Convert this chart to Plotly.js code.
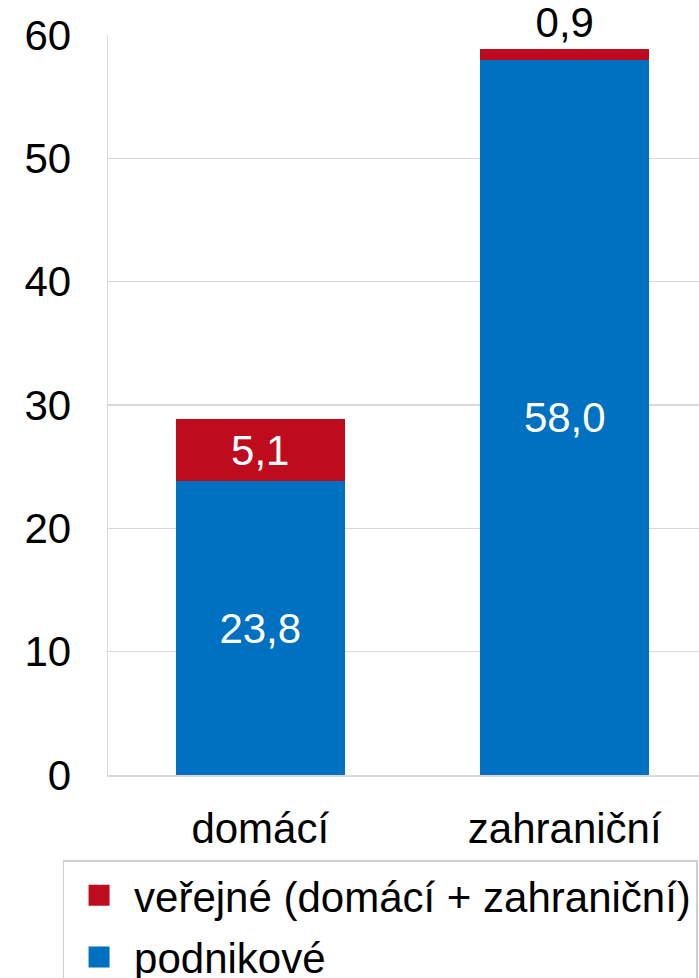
<!DOCTYPE html>
<html><head><meta charset="utf-8">
<script src="https://cdn.plot.ly/plotly-3.0.1.min.js"></script>
<style>html,body{margin:0;padding:0;overflow:hidden;background:#fff}#chart{width:760px;height:1060px}</style>
</head><body><div id="chart"></div>
<script>
const categories = ['domácí', 'zahraniční'];
const podnikove = [23.8, 58.0];
const verejne = [5.1, 0.9];
const seriesNames = ['podnikové', 'veřejné (domácí + zahraniční)'];
const yTicks = [0, 10, 20, 30, 40, 50, 60];

const FONT = 'Liberation Sans, Arial, sans-serif';
const traces = [
  {type:'bar', x:categories, y:podnikove, name:seriesNames[0], legendgroup:'a', legendrank:2,
   marker:{color:'#0070C0'},
   texttemplate:'%{y:.1f}', textposition:'inside', insidetextanchor:'middle',
   textfont:{family:FONT, size:42, color:'#ffffff'}, constraintext:'none', hoverinfo:'skip'},
  {type:'bar', x:categories, y:verejne, name:seriesNames[1], legendgroup:'b', legendrank:1,
   marker:{color:'#BE0B1E'},
   texttemplate:'%{y:.1f}', textposition:['inside','outside'], insidetextanchor:'middle',
   textfont:{family:FONT, size:42, color:['#ffffff','#000000']}, constraintext:'none', cliponaxis:false, hoverinfo:'skip'}
];
const layout = {
  width:760, height:1060,
  margin:{l:107.5, r:42.5, t:35, b:285},
  barmode:'stack', bargap:0.446,
  separators:',.',
  font:{family:FONT, size:42, color:'#000'},
  paper_bgcolor:'#fff', plot_bgcolor:'#fff',
  showlegend:true,
  xaxis:{type:'category', range:[-0.5,1.5], showgrid:false, showline:true, linecolor:'#d9d9d9', linewidth:1.5,
         ticks:'', tickfont:{size:42, family:FONT, color:'#000'}, ticklabelstandoff:16, fixedrange:true},
  yaxis:{range:[0,60], tickvals:yTicks, ticktext:yTicks.map(String), showgrid:true, gridcolor:'#d9d9d9', gridwidth:1.5,
         showline:true, linecolor:'#d9d9d9', linewidth:1.5, zeroline:false, ticks:'',
         tickfont:{size:42, family:FONT, color:'#000'}, ticklabelstandoff:27, fixedrange:true},
  legend:{x:-0.0746, xanchor:'left', y:-0.1149, yanchor:'top', traceorder:'grouped', tracegroupgap:4,
          itemwidth:60,
          bordercolor:'#cfcfcf', borderwidth:1.5, bgcolor:'#fff',
          font:{size:42, family:FONT, color:'#000'}}
};
Plotly.newPlot('chart', traces, layout, {displayModeBar:false, staticPlot:true}).then(function(gd){
  document.querySelectorAll('.legendpoints path').forEach(function(p){
    p.setAttribute('transform', (p.getAttribute('transform')||'') + ' scale(1.75)');
  });
});
</script></body></html>
